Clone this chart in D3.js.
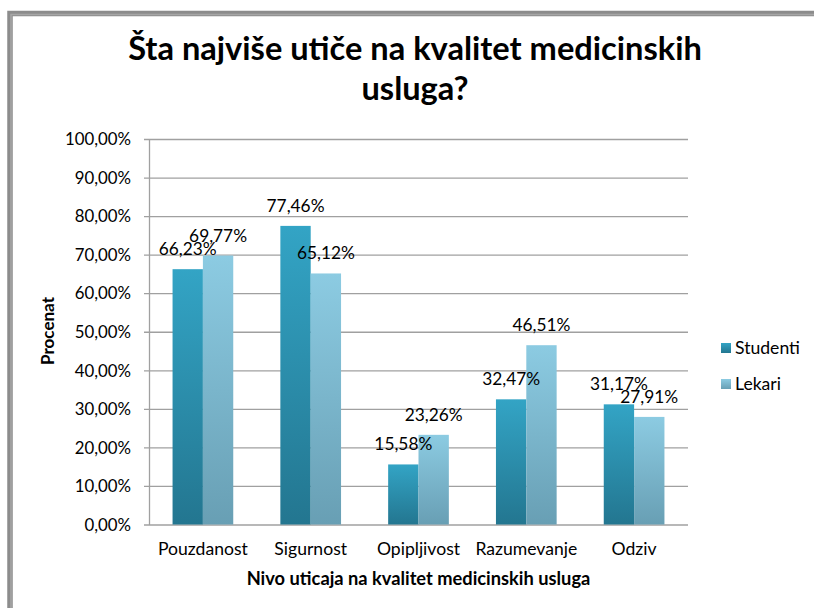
<!DOCTYPE html>
<html>
<head>
<meta charset="utf-8">
<script src="https://cdn.jsdelivr.net/npm/d3@7"></script>
<style>
  html, body { margin: 0; padding: 0; background: #ffffff; }
  svg { display: block; }
  text { font-family: Lato, "Open Sans", sans-serif; fill: #000; }
</style>
</head>
<body>
<svg id="chart" width="814" height="608"></svg>
<script>
// ---- data ----
const categories = ["Pouzdanost", "Sigurnost", "Opipljivost", "Razumevanje", "Odziv"];
const seriesNames = ["Studenti", "Lekari"];
const studenti = [66.23, 77.46, 15.58, 32.47, 31.17];
const lekari = [69.77, 65.12, 23.26, 46.51, 27.91];
const yTicks = [0, 10, 20, 30, 40, 50, 60, 70, 80, 90, 100];
const titleLines = ["Šta najviše utiče na kvalitet medicinskih", "usluga?"];
const yTitle = "Procenat";
const xTitle = "Nivo uticaja na kvalitet medicinskih usluga";

const fmt = v => v.toFixed(2).replace(".", ",") + "%";

const svg = d3.select("#chart");
const W = 814, H = 608;

// frame
svg.append("rect").attr("x", 0).attr("y", 0).attr("width", W).attr("height", H).attr("fill", "#fff");
svg.append("path")
  .attr("d", `M10,${H} L10,13.5 L${W},13.5`)
  .attr("fill", "none").attr("stroke", "#8c8c8c").attr("stroke-width", 5.5);
svg.append("path")
  .attr("d", `M11,${H} L11,14.5 L${W},14.5`)
  .attr("fill", "none").attr("stroke", "#a6a6a6").attr("stroke-width", 1.5);

// helper to fit font size to a measured width
function fitSize(weight, sample, target, base) {
  const t = svg.append("text").style("font-size", base + "px")
    .style("font-weight", weight).text(sample);
  const w = t.node().getComputedTextLength();
  t.remove();
  return base * target / w;
}

// scales
const plot = { left: 149, right: 688, top: 139, bottom: 524.5 };
const x0 = d3.scaleBand().domain(categories).range([plot.left, plot.right]).paddingInner(0.437).paddingOuter(0.2185);
const x1 = d3.scaleBand().domain(seriesNames).range([0, x0.bandwidth()]).padding(0);
const y = d3.scaleLinear().domain([0, 100]).range([plot.bottom, plot.top]);

// gradients
const defs = svg.append("defs");
const grads = [
  { id: "gS", top: "#33a4c5", bottom: "#237690" },
  { id: "gL", top: "#8ccbe2", bottom: "#689fb4" }
];
grads.forEach(g => {
  const lg = defs.append("linearGradient").attr("id", g.id).attr("x1", 0).attr("y1", 0).attr("x2", 0).attr("y2", 1);
  lg.append("stop").attr("offset", "0%").attr("stop-color", g.top);
  lg.append("stop").attr("offset", "100%").attr("stop-color", g.bottom);
});

// gridlines + y axis
const yAxis = d3.axisLeft(y).tickValues(yTicks).tickSize(-(plot.right - plot.left)).tickSizeOuter(0)
  .tickFormat(d => fmt(d)).tickPadding(13);
const gy = svg.append("g").attr("transform", `translate(${plot.left},0)`).call(yAxis);
gy.select(".domain").attr("stroke", "#a0a0a0").attr("stroke-width", 1.3);
gy.selectAll(".tick line").attr("stroke", "#a0a0a0").attr("stroke-width", 1.3).attr("x1", -5);
const tickFs = fitSize("normal", "100,00%", 66, 15);
gy.selectAll(".tick text").style("font-size", tickFs + "px").attr("fill", "#222").attr("x", -18).attr("dy", "0.34em");

// bars
const data = categories.map((c, i) => ({ cat: c, vals: [{ s: "Studenti", v: studenti[i] }, { s: "Lekari", v: lekari[i] }] }));
const groups = svg.append("g").selectAll("g").data(data).join("g")
  .attr("transform", d => `translate(${x0(d.cat)},0)`);
groups.selectAll("rect").data(d => d.vals).join("rect")
  .attr("x", d => x1(d.s)).attr("width", x1.bandwidth())
  .attr("y", d => y(d.v)).attr("height", d => y(0) - y(d.v))
  .attr("fill", d => d.s === "Studenti" ? "url(#gS)" : "url(#gL)");

// data labels
const lblFs = fitSize("normal", "66,23%", 58, 15);
groups.selectAll("text.lbl").data(d => d.vals).join("text").attr("class", "lbl")
  .attr("x", d => x1(d.s) + x1.bandwidth() / 2)
  .attr("y", d => y(d.v) - 14)
  .attr("text-anchor", "middle")
  .style("font-size", lblFs + "px").attr("fill", "#222")
  .text(d => fmt(d.v));

// x axis labels
const catFs = fitSize("normal", "Pouzdanost", 90, 15);
svg.append("g").selectAll("text").data(categories).join("text")
  .attr("x", d => x0(d) + x0.bandwidth() / 2).attr("y", 555)
  .attr("text-anchor", "middle").style("font-size", catFs + "px").attr("fill", "#222")
  .text(d => d);

// titles
const titleFs = fitSize("bold", titleLines[0], 574, 28);
svg.append("g").selectAll("text").data(titleLines).join("text")
  .attr("x", 415).attr("y", (d, i) => 60 + i * 40)
  .attr("text-anchor", "middle").style("font-weight", "bold").style("font-size", titleFs + "px")
  .text(d => d);

const xtFs = fitSize("bold", xTitle, 344, 15);
svg.append("text").attr("x", (plot.left + plot.right) / 2).attr("y", 585)
  .attr("text-anchor", "middle").style("font-weight", "bold").style("font-size", xtFs + "px")
  .text(xTitle);

const ytFs = fitSize("bold", yTitle, 68, 15);
svg.append("text").attr("transform", "translate(54,331) rotate(-90)")
  .attr("text-anchor", "middle").style("font-weight", "bold").style("font-size", ytFs + "px")
  .text(yTitle);

// legend
const legFs = fitSize("normal", "Studenti", 65, 15);
const leg = svg.append("g").selectAll("g").data(seriesNames).join("g")
  .attr("transform", (d, i) => `translate(721,${343 + i * 36})`);
leg.append("rect").attr("width", 10).attr("height", 10)
  .attr("fill", d => d === "Studenti" ? "url(#gS)" : "url(#gL)");
leg.append("text").attr("x", 14).attr("y", 5).attr("dy", "0.36em")
  .style("font-size", legFs + "px").attr("fill", "#222").text(d => d);
</script>
</body>
</html>
